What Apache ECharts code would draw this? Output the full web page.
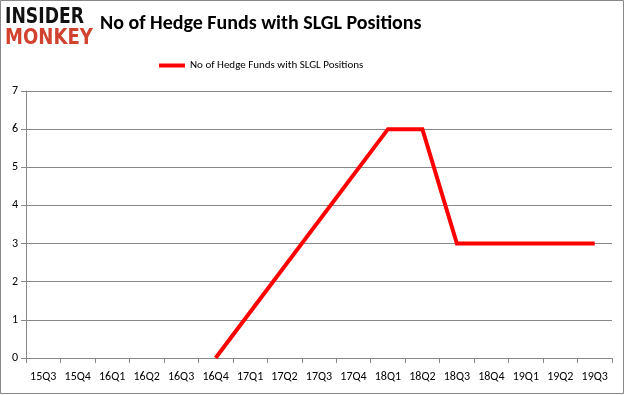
<!DOCTYPE html>
<html>
<head>
<meta charset="utf-8">
<script src="https://cdn.jsdelivr.net/npm/echarts@6/dist/echarts.min.js"></script>
<style>
html,body{margin:0;padding:0;background:#fff;}
#c{width:625px;height:395px;}
</style>
</head>
<body>
<div id="c"></div>
<script>
var categories = ['15Q3','15Q4','16Q1','16Q2','16Q3','16Q4','17Q1','17Q2','17Q3','17Q4','18Q1','18Q2','18Q3','18Q4','19Q1','19Q2','19Q3'];
var seriesName = 'No of Hedge Funds with SLGL Positions';
var values = [null, null, null, null, null, 0, null, null, null, null, 6, 6, 3, 3, 3, 3, 3];
var yTicks = [0, 1, 2, 3, 4, 5, 6, 7];

var chart = echarts.init(document.getElementById('c'), null, {renderer: 'canvas'});
chart.setOption({
  animation: false,
  backgroundColor: '#fff',
  legend: {
    data: [seriesName],
    top: 55, left: 154,
    itemWidth: 26, itemHeight: 4,
    icon: 'rect',
    itemGap: 4,
    textStyle: {fontFamily: 'Carlito, Lato', fontSize: 11, color: '#000'}
  },
  graphic: [
    {type: 'rect', shape: {x: 0.5, y: 0.5, width: 623, height: 393}, style: {fill: null, stroke: '#888', lineWidth: 1}, silent: true},
    {type: 'text', x: 5, y: 7, scaleX: 0.82, style: {text: 'INSIDER', font: '900 21px "DejaVu Sans"', fill: '#111'}},
    {type: 'text', x: 5, y: 28, scaleX: 0.86, style: {text: 'MONKEY', font: '900 21px "DejaVu Sans"', fill: '#d1432f'}},
    {type: 'text', x: 100, y: 14, style: {text: 'No of Hedge Funds with SLGL Positions', font: 'bold 20px Carlito, Lato', fill: '#000'}}
  ],
  grid: {left: 26, right: 13, top: 91, bottom: 37, containLabel: false},
  xAxis: {
    type: 'category',
    data: categories,
    boundaryGap: true,
    axisLine: {lineStyle: {color: '#888'}},
    axisTick: {show: true, alignWithLabel: false, length: 5, lineStyle: {color: '#888'}},
    axisLabel: {fontFamily: 'Carlito, Lato', fontSize: 12, color: '#000', margin: 13, interval: 0},
    splitLine: {show: false}
  },
  yAxis: {
    type: 'value',
    min: yTicks[0], max: yTicks[yTicks.length - 1], interval: 1,
    axisLine: {show: true, lineStyle: {color: '#888'}},
    axisTick: {show: true, length: 5, lineStyle: {color: '#888'}},
    axisLabel: {fontFamily: 'Carlito, Lato', fontSize: 12, color: '#000', margin: 8},
    splitLine: {lineStyle: {color: '#888', width: 1}}
  },
  series: [{
    name: seriesName,
    type: 'line',
    data: values,
    connectNulls: true,
    showSymbol: false,
    symbol: 'none',
    itemStyle: {color: '#ff0000'},
    lineStyle: {color: '#ff0000', width: 4, join: 'miter'}
  }]
});
</script>
</body>
</html>
